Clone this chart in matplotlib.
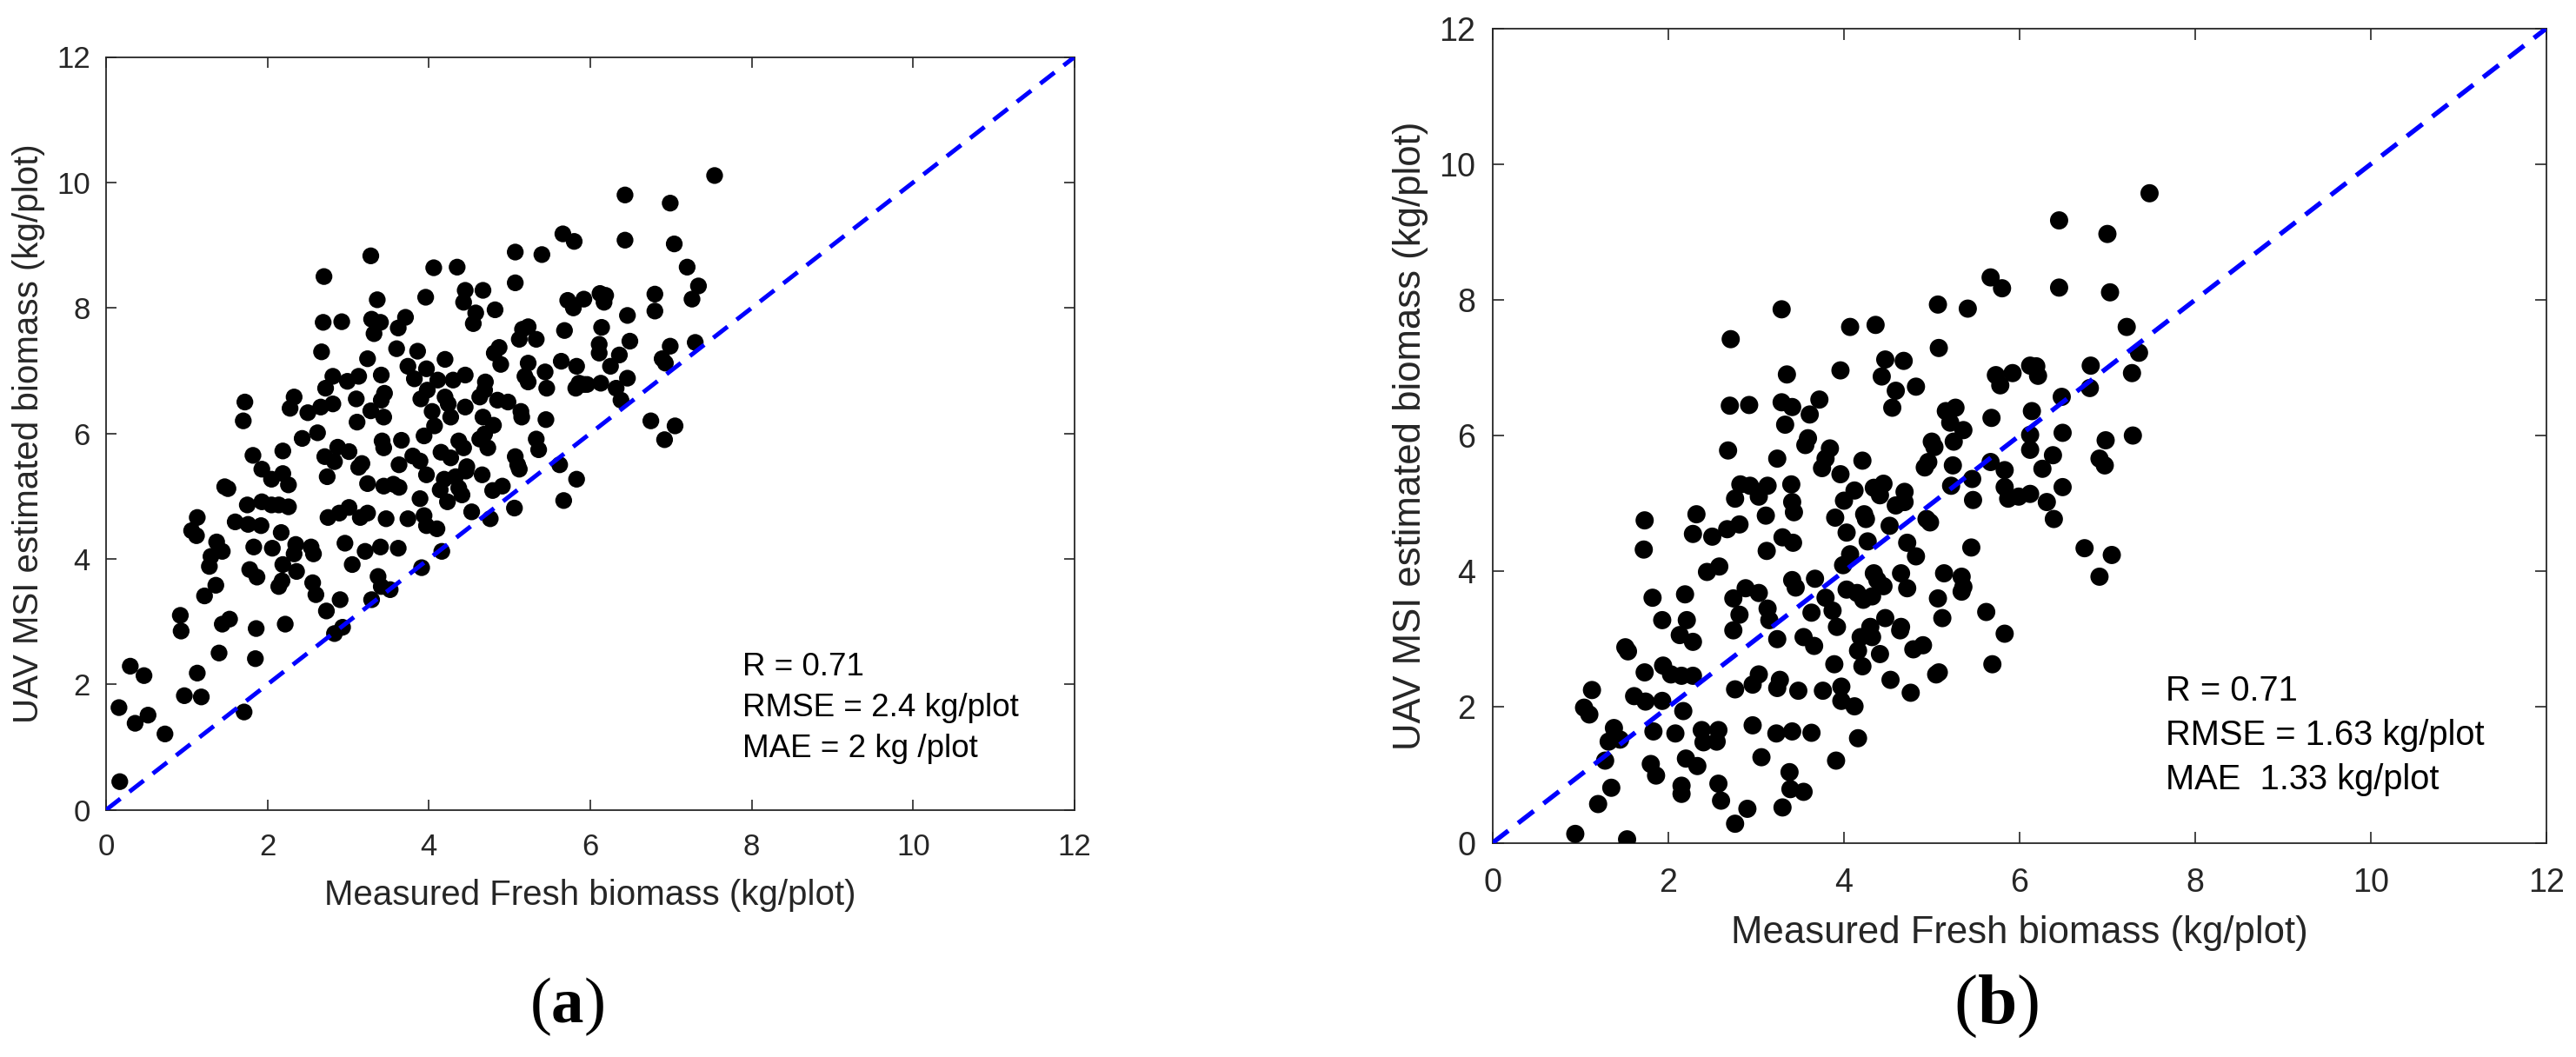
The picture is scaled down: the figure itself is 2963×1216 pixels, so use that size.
import numpy as np
import matplotlib.pyplot as plt

plt.rcParams["font.family"] = ["Liberation Sans", "DejaVu Sans"]
plt.rcParams["mathtext.fontset"] = "custom"
plt.rcParams["mathtext.rm"] = "Liberation Serif"
plt.rcParams["mathtext.bf"] = "Liberation Serif:bold"
plt.rcParams["lines.scale_dashes"] = False

# panel (a): measured vs estimated fresh biomass (kg/plot)
a_pts = [
    (7.54, 10.11), (6.43, 9.80), (6.99, 9.67), (5.66, 9.18), (5.80, 9.06), (6.43, 9.08),
    (7.04, 9.02), (5.07, 8.89), (5.40, 8.85), (3.28, 8.83), (2.70, 8.50), (4.06, 8.64),
    (4.35, 8.65), (5.07, 8.40), (7.20, 8.65), (7.34, 8.35), (4.67, 8.28), (4.45, 8.28),
    (3.36, 8.13), (3.96, 8.17), (4.43, 8.09), (4.58, 7.92), (4.82, 7.97), (6.12, 8.23),
    (6.19, 8.20), (6.17, 8.09), (6.80, 8.22), (5.92, 8.14), (5.72, 8.12), (5.79, 8.00),
    (7.26, 8.14), (6.80, 7.95), (6.46, 7.88), (2.69, 7.77), (2.92, 7.78), (3.29, 7.82),
    (3.40, 7.77), (3.71, 7.85), (3.62, 7.68), (3.32, 7.59), (4.55, 7.75), (6.14, 7.69),
    (5.68, 7.64), (5.23, 7.70), (5.16, 7.66), (5.12, 7.50), (5.33, 7.50), (6.49, 7.47),
    (7.30, 7.45), (6.99, 7.39), (6.11, 7.42), (6.11, 7.28), (6.36, 7.25), (6.25, 7.07),
    (3.60, 7.35), (3.86, 7.31), (2.67, 7.30), (3.24, 7.19), (4.20, 7.18), (3.74, 7.07),
    (4.87, 7.37), (4.81, 7.28), (4.89, 7.10), (5.23, 7.12), (5.44, 6.98), (5.64, 7.15),
    (5.83, 7.07), (6.89, 7.19), (6.93, 7.12), (3.97, 7.03), (3.13, 6.91), (3.41, 6.93),
    (2.81, 6.91), (2.72, 6.72), (2.99, 6.83), (3.82, 6.87), (4.11, 6.85), (4.30, 6.85),
    (4.45, 6.93), (4.70, 6.82), (5.19, 6.91), (5.23, 6.82), (6.46, 6.88), (5.86, 6.80),
    (5.82, 6.72), (5.96, 6.78), (6.13, 6.80), (5.46, 6.72), (6.32, 6.72), (6.38, 6.53),
    (2.33, 6.58), (2.28, 6.40), (2.50, 6.33), (2.66, 6.42), (2.81, 6.47), (3.10, 6.55),
    (3.45, 6.64), (3.41, 6.53), (3.98, 6.69), (3.90, 6.55), (4.20, 6.58), (4.24, 6.47),
    (4.45, 6.42), (4.69, 6.69), (4.63, 6.58), (4.85, 6.53), (4.98, 6.50), (4.67, 6.26),
    (4.69, 5.99), (4.80, 6.13), (4.04, 6.35), (3.28, 6.36), (3.44, 6.26), (3.11, 6.18),
    (4.27, 6.26), (4.07, 6.12), (3.94, 5.96), (5.14, 6.35), (5.15, 6.26), (5.45, 6.22),
    (1.72, 6.50), (1.70, 6.20), (2.62, 6.01), (2.43, 5.92), (2.19, 5.72), (1.82, 5.65),
    (2.87, 5.78), (2.71, 5.63), (2.83, 5.55), (3.01, 5.71), (3.42, 5.88), (3.44, 5.77),
    (3.66, 5.89), (3.80, 5.64), (3.89, 5.56), (3.97, 5.34), (3.63, 5.50), (3.13, 5.46),
    (3.17, 5.52), (3.24, 5.20), (3.56, 5.19), (3.63, 5.14), (3.44, 5.16), (2.74, 5.31),
    (1.93, 5.43), (2.05, 5.27), (2.19, 5.36), (2.26, 5.18), (2.05, 4.86), (1.93, 4.91),
    (1.51, 5.12), (1.47, 5.15), (2.14, 4.86), (2.26, 4.83), (1.75, 4.86), (1.60, 4.59),
    (1.76, 4.55), (1.92, 4.53), (2.17, 4.42), (2.06, 4.17), (1.83, 4.19), (1.13, 4.66),
    (1.06, 4.45), (1.12, 4.37), (2.35, 4.23), (2.33, 4.08), (2.54, 4.19), (2.57, 4.08),
    (2.36, 3.80), (2.19, 3.91), (1.37, 4.27), (1.44, 4.12), (1.30, 4.04), (1.28, 3.88),
    (1.36, 3.58), (1.22, 3.41), (1.78, 3.83), (1.87, 3.71), (2.14, 3.56), (2.18, 3.65),
    (2.56, 3.62), (2.60, 3.43), (2.73, 3.17), (2.90, 3.35), (2.83, 2.81), (2.93, 2.91),
    (2.96, 4.25), (3.05, 3.91), (3.21, 4.12), (3.40, 4.19), (3.37, 3.72), (3.41, 3.56),
    (3.52, 3.51), (3.29, 3.35), (3.62, 4.17), (3.47, 4.64), (3.74, 4.64), (3.24, 4.73),
    (3.15, 4.66), (3.01, 4.82), (2.89, 4.73), (2.75, 4.66), (3.89, 4.96), (3.94, 4.69),
    (3.97, 4.53), (4.10, 4.48), (3.91, 3.86), (4.16, 4.12), (4.14, 5.10), (4.23, 4.91),
    (4.19, 5.27), (4.33, 5.31), (4.37, 5.13), (4.41, 5.02), (4.15, 5.70), (4.27, 5.61),
    (4.37, 5.88), (4.43, 5.77), (4.47, 5.47), (4.46, 5.40), (4.66, 5.34), (4.73, 5.77),
    (4.63, 5.91), (4.53, 4.75), (4.76, 4.64), (4.79, 5.09), (4.91, 5.16), (5.07, 5.63),
    (5.12, 5.43), (5.10, 5.50), (5.06, 4.81), (5.33, 5.91), (5.36, 5.74), (5.62, 5.50),
    (5.67, 4.93), (5.83, 5.27), (6.75, 6.20), (6.92, 5.90), (7.05, 6.12), (5.92, 6.78),
    (0.92, 3.10), (0.93, 2.85), (1.53, 3.04), (1.44, 2.96), (1.40, 2.50), (1.86, 2.89),
    (1.85, 2.41), (2.22, 2.96), (1.13, 2.18), (0.97, 1.82), (1.18, 1.80), (0.30, 2.29),
    (0.47, 2.14), (0.16, 1.63), (0.36, 1.38), (0.52, 1.51), (0.73, 1.21), (1.71, 1.56),
    (0.17, 0.45),
]
a_measured = [p[0] for p in a_pts]
a_estimated = [p[1] for p in a_pts]
a_stats = ["R = 0.71", "RMSE = 2.4 kg/plot", "MAE = 2 kg /plot"]

# panel (b)
b_pts = [
    (7.48, 9.57), (6.45, 9.17), (7.00, 8.97), (5.67, 8.33), (5.80, 8.17), (6.45, 8.18),
    (7.03, 8.11), (5.07, 7.93), (5.41, 7.87), (3.29, 7.86), (4.07, 7.60), (4.36, 7.63),
    (7.22, 7.60), (2.71, 7.42), (5.08, 7.29), (7.36, 7.22), (4.47, 7.12), (4.68, 7.10),
    (3.96, 6.96), (3.35, 6.90), (4.43, 6.87), (4.59, 6.66), (4.82, 6.72), (5.73, 6.89),
    (5.92, 6.92), (6.19, 7.02), (6.12, 7.03), (6.21, 6.88), (6.81, 7.03), (7.28, 6.92),
    (5.78, 6.74), (6.80, 6.70), (3.72, 6.53), (2.70, 6.44), (2.92, 6.45), (3.29, 6.49),
    (3.41, 6.42), (4.55, 6.41), (3.33, 6.16), (3.61, 6.31), (5.16, 6.36), (5.27, 6.41),
    (5.21, 6.19), (5.36, 6.08), (6.14, 6.36), (6.48, 6.57), (5.68, 6.26), (6.49, 6.04),
    (7.29, 6.00), (5.00, 5.91), (5.03, 5.83), (5.25, 5.91), (3.56, 5.86), (3.59, 5.96),
    (3.84, 5.81), (3.79, 5.66), (3.75, 5.52), (3.24, 5.66), (2.68, 5.78), (4.21, 5.63),
    (3.96, 5.43), (4.92, 5.53), (4.96, 5.61), (5.24, 5.56), (5.67, 5.61), (5.83, 5.49),
    (6.12, 6.01), (6.12, 5.79), (6.26, 5.51), (6.38, 5.71), (6.98, 5.93), (6.91, 5.66),
    (6.97, 5.56), (2.82, 5.28), (2.93, 5.26), (3.13, 5.26), (3.03, 5.10), (2.76, 5.07),
    (3.40, 5.28), (3.41, 5.02), (3.43, 4.87), (4.12, 5.19), (4.00, 5.04), (4.34, 5.23),
    (4.45, 5.29), (4.41, 5.12), (4.69, 5.17), (4.69, 5.02), (5.22, 5.26), (5.46, 5.36),
    (5.47, 5.05), (5.83, 5.24), (5.87, 5.07), (5.99, 5.10), (6.12, 5.14), (6.49, 5.24),
    (6.31, 5.02), (6.39, 4.77), (1.73, 4.75), (1.72, 4.32), (2.32, 4.84), (2.28, 4.55),
    (2.50, 4.51), (2.67, 4.62), (2.81, 4.69), (3.11, 4.82), (3.30, 4.50), (3.42, 4.42),
    (3.12, 4.30), (3.90, 4.79), (4.03, 4.57), (4.23, 4.84), (4.25, 4.77), (4.52, 4.67),
    (4.59, 4.97), (4.72, 4.42), (4.82, 4.22), (4.94, 4.77), (4.98, 4.72), (4.27, 4.44),
    (3.99, 4.09), (4.07, 4.25), (5.45, 4.35), (6.74, 4.34), (7.05, 4.24), (6.91, 3.92),
    (2.44, 3.99), (2.58, 4.07), (1.82, 3.61), (2.19, 3.66), (2.74, 3.60), (2.88, 3.75),
    (3.03, 3.68), (2.81, 3.36), (2.74, 3.13), (3.13, 3.45), (3.15, 3.28), (3.41, 3.87),
    (3.45, 3.76), (3.67, 3.89), (3.79, 3.61), (3.87, 3.42), (3.63, 3.39), (3.92, 3.18),
    (4.03, 3.73), (4.15, 3.68), (4.22, 3.58), (4.32, 3.63), (4.38, 3.87), (4.34, 3.97),
    (4.45, 3.78), (4.65, 3.97), (4.72, 3.75), (4.47, 3.31), (4.65, 3.18), (4.30, 3.18),
    (4.19, 3.03), (4.32, 3.03), (4.16, 2.83), (4.41, 2.78), (4.21, 2.60), (5.07, 3.60),
    (5.14, 3.97), (5.34, 3.92), (5.36, 3.77), (5.34, 3.70), (5.12, 3.31), (5.62, 3.40),
    (5.83, 3.08), (5.69, 2.63), (1.93, 3.28), (2.13, 3.06), (2.21, 3.28), (2.28, 2.96),
    (1.51, 2.88), (1.54, 2.82), (1.94, 2.61), (2.03, 2.48), (1.73, 2.51), (2.15, 2.46),
    (2.28, 2.46), (1.93, 2.09), (2.17, 1.94), (1.74, 2.08), (1.61, 2.16), (1.13, 2.25),
    (1.04, 1.99), (1.10, 1.89), (1.38, 1.69), (1.32, 1.49), (1.45, 1.52), (1.28, 1.21),
    (1.35, 0.81), (1.20, 0.57), (0.94, 0.13), (1.53, 0.05), (1.83, 1.64), (2.08, 1.61),
    (1.80, 1.16), (1.86, 0.99), (2.20, 1.24), (2.33, 1.13), (2.15, 0.84), (2.15, 0.72),
    (2.38, 1.66), (2.40, 1.48), (2.57, 1.66), (2.55, 1.49), (2.57, 0.87), (2.60, 0.62),
    (2.76, 0.28), (2.90, 0.50), (2.96, 1.73), (3.06, 1.26), (3.03, 2.48), (2.96, 2.33),
    (2.76, 2.26), (3.24, 2.28), (3.27, 2.40), (3.24, 3.00), (3.23, 1.61), (3.41, 1.64),
    (3.48, 2.24), (3.38, 1.04), (3.39, 0.79), (3.54, 0.75), (3.30, 0.52), (3.63, 1.62),
    (3.54, 3.03), (3.66, 2.90), (3.76, 2.24), (3.89, 2.63), (3.97, 2.30), (3.97, 2.09),
    (4.12, 2.01), (4.16, 1.54), (3.91, 1.21), (4.53, 2.40), (4.76, 2.21), (4.79, 2.85),
    (4.90, 2.91), (5.05, 2.48), (5.08, 2.51), (4.64, 3.13),
]
b_measured = [p[0] for p in b_pts]
b_estimated = [p[1] for p in b_pts]
b_stats = ["R = 0.71", "RMSE = 1.63 kg/plot", "MAE  1.33 kg/plot"]

ticks = [0, 2, 4, 6, 8, 10, 12]
xlabel = "Measured Fresh biomass (kg/plot)"
ylabel = "UAV MSI estimated biomass (kg/plot)"
axis_col = "#262626"

W, H = 2963, 1216
fig = plt.figure(figsize=(W / 100, H / 100), dpi=100)


def panel(rect, xs, ys, stats, tag, k, stats_xy, lab_pos):
    # k scales every size because panel (b) was exported a bit larger
    ax = fig.add_axes(rect)
    ax.scatter(xs, ys, s=(13.9 * k) ** 2, color="black", edgecolors="none", zorder=3)
    ax.plot([0, 12], [0, 12], color=(0, 0, 1), lw=3.6 * k,
            dashes=(15 * k, 9.5 * k), zorder=4)
    ax.set_xlim(0, 12)
    ax.set_ylim(0, 12)
    ax.set_xticks(ticks)
    ax.set_yticks(ticks)
    ax.tick_params(direction="in", length=8.6 * k, width=1.2, colors=axis_col,
                   labelsize=25 * k, top=True, right=True, pad=13 * k)
    ax.tick_params(axis="x", pad=19 * k)
    for sp in ax.spines.values():
        sp.set_color(axis_col)
        sp.set_linewidth(1.3)
    ax.set_xlabel(xlabel, fontsize=29 * k, color=axis_col, va="center")
    ax.set_ylabel(ylabel, fontsize=29 * k, color=axis_col, va="center")
    ax.xaxis.set_label_coords(0.5, lab_pos[0])
    ax.yaxis.set_label_coords(lab_pos[1], 0.5)
    x0, y0, dy = stats_xy
    for i, s in enumerate(stats):
        ax.text(x0, y0 - i * dy, s, fontsize=26.5 * k, color="black",
                ha="left", va="center")
    ax.text(lab_pos[2], lab_pos[3], "(" + r"$\mathbf{" + tag + "}$" + ")",
            transform=ax.transAxes, fontsize=54 * k, family="Liberation Serif",
            ha="center", va="center", color="black")
    return ax


panel([122 / W, 1 - 931.7 / H, 1114 / W, 866.2 / H], a_measured, a_estimated,
      a_stats, "a", 1.0, (7.88, 2.28, 0.657), (-0.1135, -0.0799, 0.4758, -0.262))
panel([1717 / W, 1 - 969.5 / H, 1212 / W, 936.9 / H], b_measured, b_estimated,
      b_stats, "b", 1.085, (7.66, 2.235, 0.655), (-0.1115, -0.0779, 0.4777, -0.201))

fig.savefig("out.png", dpi=100, facecolor="white")
